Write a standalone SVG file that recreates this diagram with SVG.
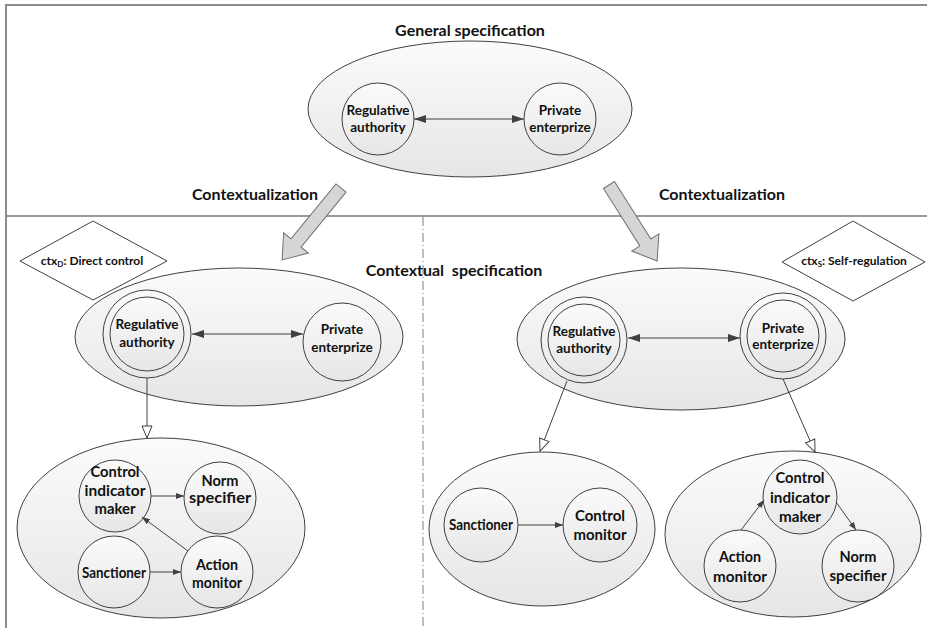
<svg xmlns="http://www.w3.org/2000/svg" width="927" height="628" viewBox="0 0 927 628">
  <defs>
    <linearGradient id="shade" x1="0" y1="0" x2="0" y2="1">
      <stop offset="0" stop-color="#fbfbfb"/>
      <stop offset="1" stop-color="#e6e6e6"/>
    </linearGradient>
    <marker id="headBig" viewBox="0 0 12 8" refX="12" refY="4" markerWidth="12" markerHeight="8" markerUnits="userSpaceOnUse" orient="auto-start-reverse">
      <path d="M0,0 L12,4 L0,8 z" fill="#404040"/>
    </marker>
    <marker id="headSmall" viewBox="0 0 8 6" refX="8" refY="3" markerWidth="8" markerHeight="6" markerUnits="userSpaceOnUse" orient="auto">
      <path d="M0,0 L8,3 L0,6 z" fill="#404040"/>
    </marker>
    <marker id="headHollow" viewBox="0 0 14 12" refX="13" refY="6" markerWidth="14" markerHeight="12" markerUnits="userSpaceOnUse" orient="auto">
      <path d="M1,1 L13,6 L1,11 z" fill="#ffffff" stroke="#404040" stroke-width="1"/>
    </marker>
  </defs>
  <style>
    .frame { stroke: #8c8c8c; stroke-width: 2; fill: none; }
    .sep { stroke: #7a7a7a; stroke-width: 1.5; fill: none; }
    .dashdot { stroke: #7a7a7a; stroke-width: 1; fill: none; stroke-dasharray: 9 3 1 3; }
    .shape { fill: url(#shade); stroke: #404040; stroke-width: 1; }
    .diamond { fill: #ffffff; stroke: #404040; stroke-width: 1; }
    .bigarrow { fill: #d6d6d6; stroke: #707070; stroke-width: 1; }
    .link { stroke: #404040; stroke-width: 1; fill: none; }
    text { font-family: Lato, "Open Sans", "Liberation Sans", sans-serif; font-weight: bold; fill: #111111; text-anchor: middle; }
    .h { font-size: 16px; }
    .s { font-size: 13.5px; }
    .m { font-size: 15.5px; }
    .d { font-size: 12px; }
  </style>

  <!-- page frame and section separators -->
  <g id="frame">
    <path class="frame" d="M6,628 L6,5 L927,5"/>
    <line class="sep" x1="6" y1="216" x2="927" y2="216"/>
    <line class="dashdot" x1="423" y1="217" x2="423" y2="628"/>
  </g>

  <!-- section headings -->
  <g id="headings">
    <text class="h" x="470" y="36">General specification</text>
    <text class="h" x="255" y="200">Contextualization</text>
    <text class="h" x="722" y="200">Contextualization</text>
    <text class="h" x="454" y="276" xml:space="preserve">Contextual  specification</text>
  </g>

  <!-- context diamonds -->
  <g id="ctx-direct">
    <polygon class="diamond" points="20,261 93,221 167,261 93,300"/>
    <text class="d" x="92" y="265">ctx<tspan font-size="8px" dy="2">D</tspan><tspan dy="-2">: Direct control</tspan></text>
  </g>
  <g id="ctx-self">
    <polygon class="diamond" points="782,262 853,221 925,262 853,301"/>
    <text class="d" x="854" y="265">ctx<tspan font-size="8px" dy="2">S</tspan><tspan dy="-2">: Self-regulation</tspan></text>
  </g>

  <!-- general specification -->
  <g id="general">
    <ellipse class="shape" cx="470" cy="109" rx="162" ry="68"/>
  </g>
  <g id="gen-authority">
    <circle class="shape" cx="378" cy="119" r="36"/>
    <text class="s" x="378" y="115">Regulative</text>
    <text class="s" x="378" y="132">authority</text>
  </g>
  <g id="gen-enterprize">
    <circle class="shape" cx="560" cy="119" r="36"/>
    <text class="s" x="560" y="115">Private</text>
    <text class="s" x="560" y="132">enterprize</text>
  </g>

  <!-- direct control context -->
  <g id="direct">
    <ellipse class="shape" cx="239" cy="337" rx="164" ry="69"/>
  </g>
  <g id="direct-authority">
    <circle class="shape" cx="147" cy="334" r="44"/>
    <circle class="shape" cx="147" cy="334" r="37"/>
    <text class="s" x="147" y="329">Regulative</text>
    <text class="s" x="147" y="347">authority</text>
  </g>
  <g id="direct-enterprize">
    <circle class="shape" cx="342" cy="342" r="39"/>
    <text class="s" x="342" y="334">Private</text>
    <text class="s" x="342" y="352">enterprize</text>
  </g>

  <g id="direct-roles">
    <ellipse class="shape" cx="161" cy="528" rx="144" ry="90"/>
  </g>
  <g id="direct-indicator">
    <circle class="shape" cx="115" cy="496" r="36"/>
    <text class="m" x="115" y="477" textLength="49" lengthAdjust="spacingAndGlyphs">Control</text>
    <text class="m" x="115" y="496" textLength="61" lengthAdjust="spacingAndGlyphs">indicator</text>
    <text class="m" x="115" y="514" textLength="41" lengthAdjust="spacingAndGlyphs">maker</text>
  </g>
  <g id="direct-norm">
    <circle class="shape" cx="220" cy="498" r="36"/>
    <text class="m" x="220" y="486" textLength="37" lengthAdjust="spacingAndGlyphs">Norm</text>
    <text class="m" x="220" y="503" textLength="62" lengthAdjust="spacingAndGlyphs">specifier</text>
  </g>
  <g id="direct-sanctioner">
    <circle class="shape" cx="114" cy="572" r="36"/>
    <text class="m" x="114" y="578" textLength="64" lengthAdjust="spacingAndGlyphs">Sanctioner</text>
  </g>
  <g id="direct-action">
    <circle class="shape" cx="217" cy="572" r="36"/>
    <text class="m" x="217" y="570" textLength="42" lengthAdjust="spacingAndGlyphs">Action</text>
    <text class="m" x="217" y="588" textLength="50" lengthAdjust="spacingAndGlyphs">monitor</text>
  </g>

  <!-- self-regulation context -->
  <g id="self">
    <ellipse class="shape" cx="681" cy="339" rx="164" ry="71"/>
  </g>
  <g id="self-authority">
    <circle class="shape" cx="584" cy="340" r="43"/>
    <circle class="shape" cx="584" cy="340" r="36"/>
    <text class="s" x="584" y="336">Regulative</text>
    <text class="s" x="584" y="353">authority</text>
  </g>
  <g id="self-enterprize">
    <circle class="shape" cx="783" cy="336" r="43"/>
    <circle class="shape" cx="783" cy="336" r="36"/>
    <text class="s" x="783" y="333">Private</text>
    <text class="s" x="783" y="349">enterprize</text>
  </g>

  <g id="self-authority-roles">
    <ellipse class="shape" cx="542" cy="529" rx="113" ry="77"/>
  </g>
  <g id="self-sanctioner">
    <circle class="shape" cx="481" cy="525" r="37"/>
    <text class="m" x="481" y="530" textLength="64" lengthAdjust="spacingAndGlyphs">Sanctioner</text>
  </g>
  <g id="self-control">
    <circle class="shape" cx="600" cy="525" r="37"/>
    <text class="m" x="600" y="521" textLength="50" lengthAdjust="spacingAndGlyphs">Control</text>
    <text class="m" x="600" y="540" textLength="53" lengthAdjust="spacingAndGlyphs">monitor</text>
  </g>

  <g id="self-enterprize-roles">
    <ellipse class="shape" cx="793" cy="534" rx="128" ry="83"/>
  </g>
  <g id="self-indicator">
    <circle class="shape" cx="800" cy="497" r="37"/>
    <text class="m" x="800" y="483" textLength="49" lengthAdjust="spacingAndGlyphs">Control</text>
    <text class="m" x="800" y="503" textLength="60" lengthAdjust="spacingAndGlyphs">indicator</text>
    <text class="m" x="800" y="522" textLength="42" lengthAdjust="spacingAndGlyphs">maker</text>
  </g>
  <g id="self-action">
    <circle class="shape" cx="740" cy="566" r="36"/>
    <text class="m" x="740" y="562" textLength="42" lengthAdjust="spacingAndGlyphs">Action</text>
    <text class="m" x="740" y="582" textLength="54" lengthAdjust="spacingAndGlyphs">monitor</text>
  </g>
  <g id="self-norm">
    <circle class="shape" cx="858" cy="566" r="36"/>
    <text class="m" x="858" y="562" textLength="37" lengthAdjust="spacingAndGlyphs">Norm</text>
    <text class="m" x="858" y="581" textLength="57" lengthAdjust="spacingAndGlyphs">specifier</text>
  </g>

  <!-- connectors -->
  <g id="connectors">
    <!-- contextualization arrows -->
    <polygon class="bigarrow" transform="translate(341,188) rotate(129.3)" points="0,-6.5 71,-6.5 71,-16 93,0 71,16 71,6.5 0,6.5"/>
    <polygon class="bigarrow" transform="translate(609,185) rotate(57.7)" points="0,-6.5 68,-6.5 68,-16 90,0 68,16 68,6.5 0,6.5"/>

    <!-- authority / enterprize relations -->
    <line class="link" x1="414" y1="119" x2="524" y2="119" marker-start="url(#headBig)" marker-end="url(#headBig)"/>
    <line class="link" x1="192" y1="334" x2="303" y2="334" marker-start="url(#headBig)" marker-end="url(#headBig)"/>
    <line class="link" x1="628" y1="338" x2="740" y2="338" marker-start="url(#headBig)" marker-end="url(#headBig)"/>

    <!-- refinements -->
    <line class="link" x1="147" y1="378" x2="147" y2="438" marker-end="url(#headHollow)"/>
    <line class="link" x1="567" y1="381" x2="540" y2="451" marker-end="url(#headHollow)"/>
    <line class="link" x1="783" y1="379" x2="815" y2="452" marker-end="url(#headHollow)"/>

    <!-- role relations -->
    <line class="link" x1="151" y1="496" x2="184" y2="496" marker-end="url(#headSmall)"/>
    <line class="link" x1="150" y1="572" x2="181" y2="572" marker-end="url(#headSmall)"/>
    <line class="link" x1="188" y1="551" x2="142" y2="517" marker-end="url(#headSmall)"/>
    <line class="link" x1="518" y1="525" x2="563" y2="525" marker-end="url(#headSmall)"/>
    <line class="link" x1="741" y1="530" x2="764" y2="500" marker-end="url(#headSmall)"/>
    <line class="link" x1="836" y1="502" x2="856" y2="530" marker-end="url(#headSmall)"/>
  </g>
</svg>
